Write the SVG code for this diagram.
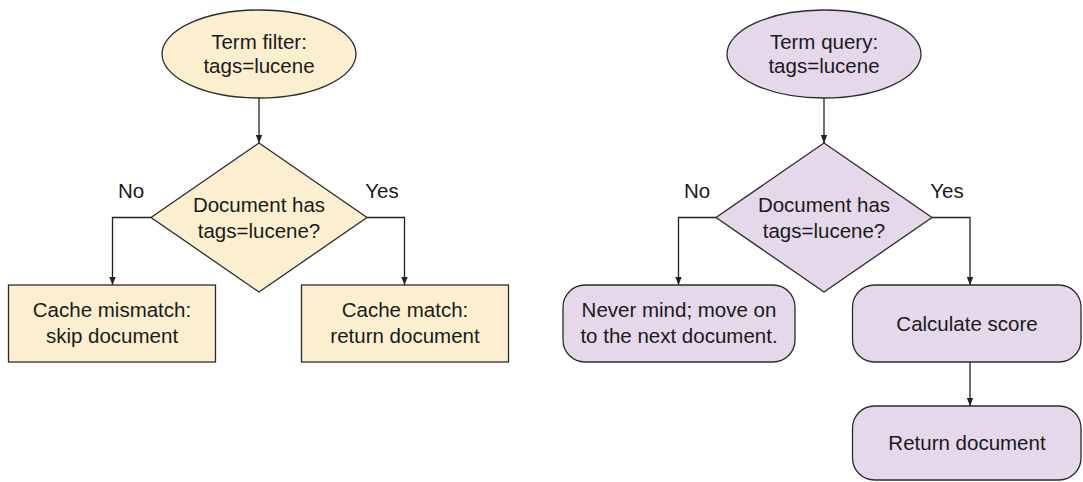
<svg xmlns="http://www.w3.org/2000/svg" width="1083" height="482" viewBox="0 0 1083 482">
<defs>
<marker id="arr" viewBox="0 0 10 10" refX="10" refY="5" markerWidth="8" markerHeight="10" markerUnits="userSpaceOnUse" orient="auto">
<path d="M0,1 L10,5 L0,9 z" fill="#222"/>
</marker>
<style>
.y{fill:#fcefcf;stroke:#2b2b2b;stroke-width:1.3}
.p{fill:#e4d8ea;stroke:#2b2b2b;stroke-width:1.3}
text{font-family:"Liberation Sans",Arial,sans-serif;font-size:20.5px;fill:#1a1a1a;text-anchor:middle}
.c{fill:none;stroke:#222;stroke-width:1.3;marker-end:url(#arr)}
</style>
</defs>
<rect width="1083" height="482" fill="#fff"/>
<g id="connectors">
<path class="c" d="M259,98 V143"/>
<path class="c" d="M151,217.5 H112.5 V285"/>
<path class="c" d="M367,217.5 H404.5 V285"/>
<path class="c" d="M824,98 V143"/>
<path class="c" d="M716,217.5 H678.5 V285"/>
<path class="c" d="M932,217.5 H970 V285"/>
<path class="c" d="M970,362 V406"/>
</g>
<g id="filter-start">
<ellipse class="y" cx="259" cy="54" rx="97" ry="44"/>
<text x="259" y="48.5">Term filter:</text>
<text x="259" y="73">tags=lucene</text>
</g>
<g id="filter-decision">
<polygon class="y" points="259,143 367,217.5 259,292 151,217.5"/>
<text x="259" y="212">Document has</text>
<text x="259" y="238">tags=lucene?</text>
</g>
<text id="filter-no" x="131" y="198">No</text>
<text id="filter-yes" x="382" y="198">Yes</text>
<g id="filter-mismatch">
<rect class="y" x="8.5" y="285" width="207" height="77"/>
<text x="112" y="317">Cache mismatch:</text>
<text x="112" y="343">skip document</text>
</g>
<g id="filter-match">
<rect class="y" x="301.5" y="285" width="207" height="77"/>
<text x="405" y="317">Cache match:</text>
<text x="405" y="343">return document</text>
</g>
<g id="query-start">
<ellipse class="p" cx="824" cy="54" rx="97" ry="44"/>
<text x="824" y="48.5">Term query:</text>
<text x="824" y="73">tags=lucene</text>
</g>
<g id="query-decision">
<polygon class="p" points="824,143 932,217.5 824,292 716,217.5"/>
<text x="824" y="212">Document has</text>
<text x="824" y="238">tags=lucene?</text>
</g>
<text id="query-no" x="697" y="198">No</text>
<text id="query-yes" x="947" y="198">Yes</text>
<g id="query-nevermind">
<rect class="p" x="563" y="285" width="232" height="77" rx="22" ry="22"/>
<text x="679" y="317">Never mind; move on</text>
<text x="679" y="343">to the next document.</text>
</g>
<g id="query-score">
<rect class="p" x="852.5" y="285" width="228.5" height="77" rx="22" ry="22"/>
<text x="967" y="331">Calculate score</text>
</g>
<g id="query-return">
<rect class="p" x="852.5" y="406" width="228.5" height="74" rx="22" ry="22"/>
<text x="967" y="450">Return document</text>
</g>
</svg>
